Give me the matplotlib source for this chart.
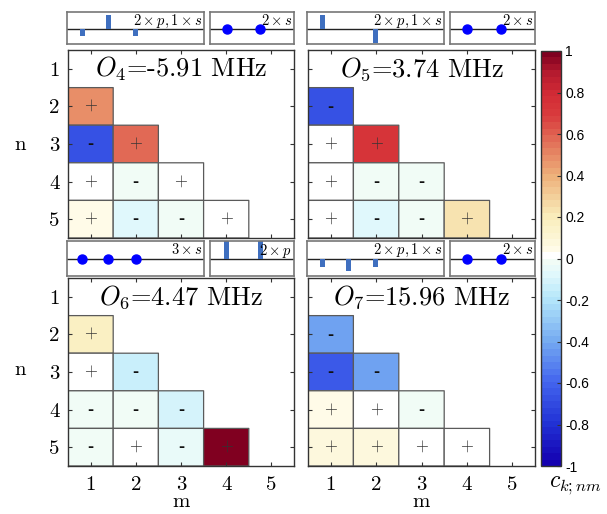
import numpy as np
import matplotlib
matplotlib.use('Agg')
import matplotlib.pyplot as plt
from matplotlib.colors import LinearSegmentedColormap, Normalize
from matplotlib.cm import ScalarMappable

plt.rcParams['mathtext.fontset'] = 'cm'
plt.rcParams['axes.formatter.use_mathtext'] = True

nan = np.nan
# ---- data ----
titles = [r"$O_4$=-5.91 MHz", r"$O_5$=3.74 MHz", r"$O_6$=4.47 MHz", r"$O_7$=15.96 MHz"]
n_labels = ['1', '2', '3', '4', '5']
m_labels = ['1', '2', '3', '4', '5']

O4 = [[nan, nan, nan, nan, nan],
      [0.47, nan, nan, nan, nan],
      [-0.66, 0.58, nan, nan, nan],
      [0.0, -0.03, 0.0, nan, nan],
      [0.06, -0.08, -0.03, 0.0, nan]]
O5 = [[nan, nan, nan, nan, nan],
      [-0.66, nan, nan, nan, nan],
      [0.0, 0.72, nan, nan, nan],
      [0.0, -0.03, -0.03, nan, nan],
      [0.0, -0.07, -0.03, 0.24, nan]]
O6 = [[nan, nan, nan, nan, nan],
      [0.16, nan, nan, nan, nan],
      [0.0, -0.13, nan, nan, nan],
      [-0.03, -0.03, -0.1, nan, nan],
      [-0.03, 0.0, -0.05, 0.99, nan]]
O7 = [[nan, nan, nan, nan, nan],
      [-0.43, nan, nan, nan, nan],
      [-0.64, -0.43, nan, nan, nan],
      [0.05, 0.0, -0.03, nan, nan],
      [0.09, 0.08, 0.0, 0.0, nan]]
matrices = [O4, O5, O6, O7]

# insets: (kind, x positions, values, label)
inset_left = [
    ('bar', [1.1, 3.0, 5.0], [-0.5, 0.92, -0.5], r'$2\times p, 1\times s$'),
    ('bar', [1.1, 5.0], [0.92, -0.92], r'$2\times p, 1\times s$'),
    ('dot', [1.1, 3.0, 5.0], [0, 0, 0], r'$3\times s$'),
    ('bar', [1.1, 3.0, 5.0], [-0.48, -0.68, -0.45], r'$2\times p, 1\times s$'),
]
inset_right = [
    ('dot', [1, 3], [0, 0], r'$2\times s$'),
    ('dot', [1, 3], [0, 0], r'$2\times s$'),
    ('bar', [1, 3], [1.2, 1.2], r'$2\times p$'),
    ('dot', [1, 3], [0, 0], r'$2\times s$'),
]
cbar_ticks = [-1, -0.8, -0.6, -0.4, -0.2, 0, 0.2, 0.4, 0.6, 0.8, 1]

# ---- colormap ----
anchors = [(-1.0, '#1400b0'), (-0.8, '#2233d6'), (-0.6, '#4466ee'), (-0.4, '#76acf1'),
           (-0.2, '#b4e6fa'), (-0.08, '#e0f8fc'), (-0.016, '#f1fcf6'), (0.0, '#ffffff'),
           (0.016, '#ffffff'), (0.05, '#fffbe6'), (0.1, '#fcf6d6'),
           (0.2, '#f9eebd'), (0.4, '#eeb27b'), (0.5, '#e78b66'), (0.6, '#e06452'),
           (0.7, '#d93b3d'), (0.8, '#d22b35'), (0.9, '#b81c30'), (1.0, '#800020')]
cmap = LinearSegmentedColormap.from_list('rb', [((v + 1) / 2, c) for v, c in anchors], N=64)
norm = Normalize(-1, 1)

W, H = 607, 514
fig = plt.figure(figsize=(W / 100, H / 100), dpi=100)

def fr(x0, y0, x1, y1):
    return [x0 / W, 1 - y1 / H, (x1 - x0) / W, (y1 - y0) / H]

main_boxes = [fr(68, 50, 294, 238), fr(308, 50, 535, 238),
              fr(68, 278, 294, 466), fr(308, 278, 535, 466)]
left_boxes = [fr(67, 12, 204, 44), fr(307, 12, 444, 44),
              fr(67, 241, 204, 276), fr(307, 241, 444, 276)]
right_boxes = [fr(210, 12, 294, 44), fr(450, 12, 535, 44),
               fr(210, 241, 294, 276), fr(450, 241, 535, 276)]

edges = np.arange(0.5, 6.0, 1.0)
for k in range(4):
    ax = fig.add_axes(main_boxes[k])
    C = np.ma.masked_invalid(np.array(matrices[k], dtype=float))
    ax.pcolor(edges, edges, C, cmap=cmap, norm=norm, edgecolors='#5a5a5a', linewidth=0.9)
    for i in range(5):
        for j in range(5):
            v = matrices[k][i][j]
            if np.isnan(v):
                continue
            if v >= 0:
                ax.text(j + 1, i + 1, '+', ha='center', va='center', fontsize=12,
                        family='cmr10', color='#333333')
            else:
                ax.text(j + 1, i + 1.02, '-', ha='center', va='center', fontsize=13,
                        family='Liberation Sans', fontweight='bold', color='#111111')
    ax.set_xlim(0.5, 5.5)
    ax.set_ylim(5.5, 0.5)
    ax.set_xticks(range(1, 6))
    ax.set_yticks(range(1, 6))
    ax.tick_params(direction='in', length=3, width=0.8, top=True, right=True, color='#333333')
    if k < 2:
        ax.set_xticklabels([])
    else:
        ax.set_xticklabels(m_labels, family='cmr10', fontsize=15)
        ax.tick_params(axis='x', pad=7)
    if k % 2 == 1:
        ax.set_yticklabels([])
    else:
        ax.set_yticklabels(n_labels, family='cmr10', fontsize=15)
        ax.tick_params(axis='y', pad=6)
    for s in ax.spines.values():
        s.set_color('#333333')
        s.set_linewidth(1.0)
    ax.text(3.0, 1.0, titles[k], ha='center', va='center', fontsize=19, family='cmr10')

for k in range(4):
    for box, spec, xmax in ((left_boxes[k], inset_left[k], 10), (right_boxes[k], inset_right[k], 5)):
        ia = fig.add_axes(box)
        kind, xs, vals, lab = spec
        ia.axhline(0, color='#222222', lw=1.0, zorder=1)
        if kind == 'bar':
            ia.bar(xs, vals, width=0.37 if xmax == 10 else 0.3, color='#3f6fbf', zorder=2)
        else:
            ia.plot(xs, vals, 'o', color='#0000ff', markersize=6.5, zorder=3)
        ia.set_xlim(0, xmax)
        ia.set_ylim(-1.0, 1.1)
        ia.set_xticks([])
        ia.set_yticks([])
        for s in ia.spines.values():
            s.set_color('#777777')
            s.set_linewidth(1.2)
        if lab == r'$2\times p$':
            ia.text(0.58, 0.97, lab, transform=ia.transAxes, ha='left', va='top',
                    fontsize=10.5, clip_on=True)
        else:
            ia.text(0.99, 0.97, lab, transform=ia.transAxes, ha='right', va='top', fontsize=10.5)

cax = fig.add_axes(fr(541, 51, 561, 466))
sm = ScalarMappable(norm=norm, cmap=cmap)
cb = fig.colorbar(sm, cax=cax, ticks=cbar_ticks)
cb.ax.set_yticklabels(['%g' % t for t in cbar_ticks], family='Liberation Sans', fontsize=10)
cb.ax.tick_params(direction='in', length=3, width=0.8, color='#333333', pad=3)
cb.outline.set_edgecolor('#333333')
cb.outline.set_linewidth(1.0)

fig.text(20 / W, 1 - 145 / H, 'n', ha='center', va='center', family='cmr10', fontsize=15)
fig.text(20 / W, 1 - 370 / H, 'n', ha='center', va='center', family='cmr10', fontsize=15)
fig.text(181 / W, 1 - 502 / H, 'm', ha='center', va='center', family='cmr10', fontsize=15)
fig.text(421 / W, 1 - 502 / H, 'm', ha='center', va='center', family='cmr10', fontsize=15)
fig.text(575 / W, 1 - 485 / H, r'$c_{k;nm}$', ha='center', va='center', fontsize=17)

fig.savefig('out.png', dpi=100)
